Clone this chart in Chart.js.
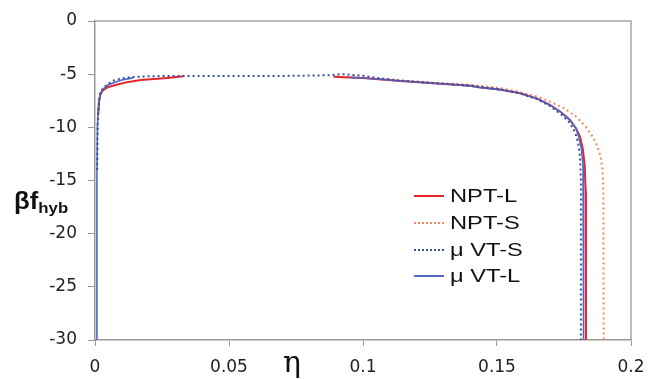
<!DOCTYPE html>
<html>
<head>
<meta charset="utf-8">
<script src="https://cdn.jsdelivr.net/npm/chart.js@4.4.1/dist/chart.umd.min.js"></script>
<style>
    body { margin: 0; background: #fff; font-family: "Liberation Sans", Arial, sans-serif; }
    #wrap { position: relative; width: 650px; height: 379px; }
    #yTitle { position: absolute; left: 14px; top: 188px; font-weight: bold; font-size: 23px; color: #111; transform: scaleX(1.12); transform-origin: left; }
    #yTitle sub { font-size: 15px; vertical-align: -4px; }
    #xTitle { position: absolute; left: 283px; top: 344px; font-size: 30px; color: #111; font-family: "DejaVu Serif", serif; }
    #legend { position: absolute; left: 414px; top: 183px; }
    .row { display: flex; align-items: center; height: 26.7px; font-size: 18.5px; color: #111; }
    .row span { display: inline-block; transform: scaleX(1.28); transform-origin: left; }
    .swatch { width: 30px; margin-right: 6px; height: 0; }
</style>
</head>
<body>
<div id="wrap">
    <canvas id="chart" width="650" height="379"></canvas>
    <div id="yTitle">βf<sub>hyb</sub></div>
    <div id="xTitle">η</div>
    <div id="legend"></div>
</div>
<script>

const xTicks = [0, 0.05, 0.1, 0.15, 0.2];
const yTicks = [0, -5, -10, -15, -20, -25, -30];

// NPT-L (two branches, gap in the middle)
const etaNptL = [0.0012, 0.0015, 0.002, 0.003, 0.005, 0.008, 0.012, 0.017, 0.022, 0.027, 0.033, null,
    0.089, 0.1, 0.114, 0.129, 0.14, 0.1437, 0.151, 0.1586, 0.165, 0.1698, 0.174, 0.1772, 0.1795, 0.181, 0.182, 0.1827, 0.1831, 0.1832];
const fNptL = [-8.8, -7.6, -6.9, -6.5, -6.2, -6.0, -5.75, -5.55, -5.45, -5.35, -5.2, null,
    -5.25, -5.36, -5.64, -5.9, -6.1, -6.25, -6.45, -6.8, -7.3, -7.9, -8.6, -9.3, -10.1, -10.9, -12.0, -13.5, -16, -30];

// NPT-S
const etaNptS = [0.09, 0.1, 0.114, 0.129, 0.14, 0.151, 0.158, 0.165, 0.17, 0.175, 0.1795, 0.183, 0.186, 0.1875, 0.1887, 0.1894, 0.1897, 0.1898];
const fNptS = [-5.25, -5.36, -5.6, -5.85, -6.0, -6.3, -6.65, -7.1, -7.6, -8.2, -9.0, -9.9, -11.0, -11.8, -12.8, -14, -16, -30];

// μVT-S
const etaMuS = [0.0008, 0.001, 0.0015, 0.002, 0.003, 0.005, 0.007, 0.009, 0.011, 0.013, 0.015, 0.02, 0.025, 0.033, 0.05, 0.07, 0.088,
    0.092, 0.095, 0.1, 0.105, 0.114, 0.129, 0.14, 0.151, 0.1586, 0.165, 0.1698, 0.174, 0.1772, 0.1792, 0.1803, 0.181, 0.1813, 0.1813];
const fMuS = [-14, -9.5, -7.5, -6.8, -6.3, -5.9, -5.6, -5.45, -5.35, -5.3, -5.25, -5.2, -5.18, -5.17, -5.17, -5.17, -5.1,
    -5.0, -5.05, -5.15, -5.35, -5.6, -5.88, -6.08, -6.42, -6.8, -7.35, -8.0, -8.8, -9.6, -10.5, -11.5, -12.8, -15, -30];

// μVT-L (two branches)
const etaMuL = [0.0006, 0.0007, 0.0009, 0.0012, 0.0015, 0.002, 0.003, 0.005, 0.0075, 0.01, 0.0142, null,
    0.095, 0.1, 0.114, 0.129, 0.14, 0.1437, 0.151, 0.1586, 0.165, 0.1698, 0.174, 0.1772, 0.1795, 0.1805, 0.1815, 0.1821, 0.1823, 0.1823];
const fMuL = [-30, -15, -10, -8.5, -7.5, -6.8, -6.4, -6.0, -5.75, -5.55, -5.35, null,
    -5.3, -5.36, -5.64, -5.9, -6.1, -6.25, -6.45, -6.8, -7.3, -7.9, -8.6, -9.3, -10.1, -10.9, -12.0, -13.5, -16, -30];

function pts(xs, ys) {
    return xs.map((x, i) => ({ x: x, y: ys[i] }));
}

const frame = {
    id: "frame",
    afterDraw(chart) {
        const a = chart.chartArea;
        const c = chart.ctx;
        c.save();
        c.strokeStyle = "#a8a8a8";
        c.lineWidth = 1.5;
        c.beginPath();
        c.moveTo(a.left, a.top);
        c.lineTo(a.right, a.top);
        c.lineTo(a.right, a.bottom);
        c.stroke();
        c.restore();
    }
};

const datasets = [
    { label: "NPT-L", data: pts(etaNptL, fNptL), borderColor: "#e8252b", borderWidth: 2, order: 2 },
    { label: "NPT-S", data: pts(etaNptS, fNptS), borderColor: "#f28a60", borderWidth: 2, borderDash: [2, 3], order: 3 },
    { label: "μ VT-S", data: pts(etaMuS, fMuS), borderColor: "#3b4f9c", borderWidth: 2, borderDash: [2, 3], order: 0 },
    { label: "μ VT-L", data: pts(etaMuL, fMuL), borderColor: "#5368c4", borderWidth: 1.6, order: 1 }
];

datasets.forEach(d => {
    d.showLine = true;
    d.pointRadius = 0;
    d.fill = false;
    d.tension = 0;
    d.spanGaps = false;
});

const tickFont = { size: 17, family: "'DejaVu Sans', Arial" };

new Chart(document.getElementById("chart"), {
    type: "scatter",
    data: { datasets: datasets },
    options: {
        responsive: false,
        animation: false,
        layout: { padding: { top: 21, right: 19, left: 0, bottom: 0 } },
        plugins: { legend: { display: false }, tooltip: { enabled: false } },
        scales: {
            x: {
                type: "linear",
                min: 0,
                max: 0.2,
                afterBuildTicks: s => { s.ticks = xTicks.map(v => ({ value: v })); },
                afterFit: s => { s.height = 39; s.paddingLeft = 0; s.paddingRight = 0; },
                ticks: {
                    color: "#222",
                    padding: 11,
                    font: tickFont,
                    callback: v => String(+v.toFixed(2))
                },
                grid: { drawOnChartArea: false, drawTicks: true, tickLength: 6, color: "#999" },
                border: { color: "#999", width: 1.5 }
            },
            y: {
                type: "linear",
                min: -30,
                max: 0,
                afterBuildTicks: s => { s.ticks = yTicks.map(v => ({ value: v })); },
                afterFit: s => { s.width = 95; s.paddingTop = 0; s.paddingBottom = 0; },
                ticks: {
                    color: "#222",
                    padding: 11,
                    font: tickFont
                },
                grid: { drawOnChartArea: false, drawTicks: true, tickLength: 7, color: "#999" },
                border: { color: "#999", width: 1.5 }
            }
        }
    },
    plugins: [frame]
});

// legend built from the datasets
const legend = document.getElementById("legend");
datasets.forEach(d => {
    const row = document.createElement("div");
    row.className = "row";
    const sw = document.createElement("div");
    sw.className = "swatch";
    sw.style.borderTop = (d.borderDash ? "2px dotted " : "2px solid ") + d.borderColor;
    const t = document.createElement("span");
    t.textContent = d.label;
    row.appendChild(sw);
    row.appendChild(t);
    legend.appendChild(row);
});

</script>
</body>
</html>
